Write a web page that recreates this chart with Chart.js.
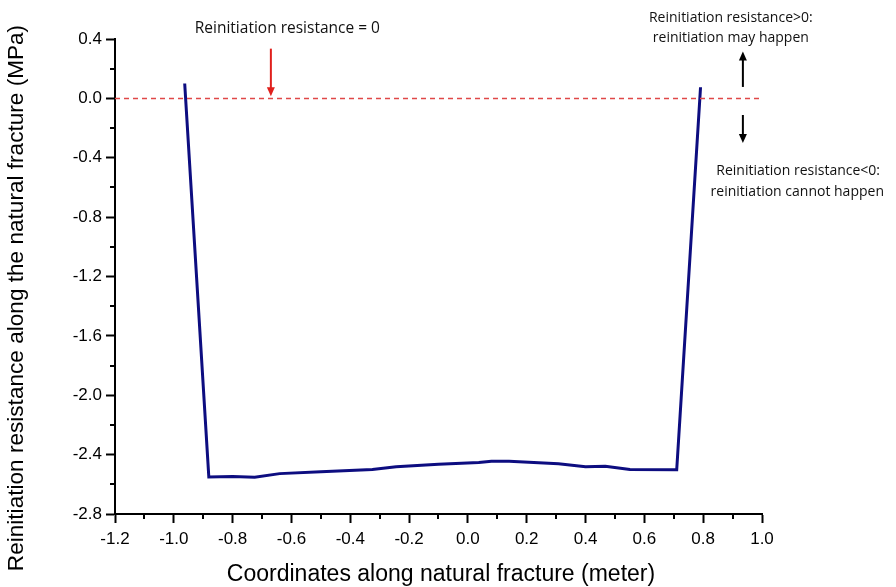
<!DOCTYPE html>
<html>
<head>
<meta charset="utf-8">
<script src="https://cdn.jsdelivr.net/npm/chart.js@4.4.1/dist/chart.umd.min.js"></script>
<style>
  html, body { margin: 0; padding: 0; background: #fff; }
  #wrap { width: 896px; height: 587px; }
</style>
</head>
<body>
<div id="wrap"><canvas id="chart" width="896" height="587"></canvas></div>
<script>
// values
const coordX = [-0.963, -0.881, -0.80, -0.725, -0.64, -0.50, -0.325, -0.244, -0.10, 0.037, 0.08, 0.14, 0.308, 0.40, 0.467, 0.551, 0.71, 0.791];
const resistance = [0.10, -2.55, -2.547, -2.552, -2.528, -2.515, -2.50, -2.482, -2.465, -2.453, -2.445, -2.445, -2.462, -2.482, -2.478, -2.50, -2.502, 0.075];
const zeroX = [-1.2, 0.99];
const zeroY = [0, 0];

const xTitle = "Coordinates along natural fracture (meter)";
const yTitle = "Reinitiation resistance along the natural fracture (MPa)";

const AXIS_FONT = "Liberation Sans, Arial, sans-serif";
const NOTE_FONT = "'Open Sans', 'Noto Sans', sans-serif";

function toPoints(xs, ys) {
    return xs.map((x, i) => ({ x, y: ys[i] }));
}

function arrow(ctx, x, y1, y2, color) {
    // shaft from y1 to y2, head at y2
    const dir = y2 > y1 ? 1 : -1;
    ctx.save();
    ctx.strokeStyle = color;
    ctx.fillStyle = color;
    ctx.lineWidth = 2;
    ctx.beginPath();
    ctx.moveTo(x, y1);
    ctx.lineTo(x, y2 - dir * 6);
    ctx.stroke();
    ctx.beginPath();
    ctx.moveTo(x, y2);
    ctx.lineTo(x - 4, y2 - dir * 9);
    ctx.lineTo(x + 4, y2 - dir * 9);
    ctx.closePath();
    ctx.fill();
    ctx.restore();
}

const decor = {
    id: "decor",
    afterDraw(chart) {
        const ctx = chart.ctx;
        const xs = chart.scales.x;
        const ys = chart.scales.y;
        const area = chart.chartArea;

        // minor ticks
        ctx.save();
        ctx.strokeStyle = "#000";
        ctx.lineWidth = 2;
        for (let v = -1.1; v < 1.0; v += 0.2) {
            const px = Math.round(xs.getPixelForValue(v));
            ctx.beginPath();
            ctx.moveTo(px, area.bottom);
            ctx.lineTo(px, area.bottom + 5);
            ctx.stroke();
        }
        for (let v = 0.2; v > -2.8; v -= 0.4) {
            const py = Math.round(ys.getPixelForValue(v));
            ctx.beginPath();
            ctx.moveTo(area.left, py);
            ctx.lineTo(area.left - 5, py);
            ctx.stroke();
        }
        ctx.restore();

        // axis titles
        ctx.save();
        ctx.fillStyle = "#000";
        ctx.textAlign = "center";
        ctx.textBaseline = "middle";
        ctx.font = "23px " + AXIS_FONT;
        ctx.fillText(xTitle, 441, 575);
        ctx.font = "22.6px " + AXIS_FONT;
        ctx.translate(17, 298);
        ctx.rotate(-Math.PI / 2);
        ctx.fillText(yTitle, 0, 0);
        ctx.restore();

        // annotations
        ctx.save();
        ctx.fillStyle = "#111";
        ctx.textAlign = "center";
        ctx.textBaseline = "middle";
        ctx.font = "15.5px " + NOTE_FONT;
        ctx.fillText("Reinitiation resistance = 0", xs.getPixelForValue(-0.614), ys.getPixelForValue(0.467));
        ctx.font = "14px " + NOTE_FONT;
        ctx.fillText("Reinitiation resistance>0:", xs.getPixelForValue(0.894), ys.getPixelForValue(0.54));
        ctx.fillText("reinitiation may happen", xs.getPixelForValue(0.894), ys.getPixelForValue(0.405));
        ctx.fillText("Reinitiation resistance<0:", xs.getPixelForValue(1.123), ys.getPixelForValue(-0.49));
        ctx.fillText("reinitiation cannot happen", xs.getPixelForValue(1.12), ys.getPixelForValue(-0.632));
        ctx.restore();

        arrow(ctx, xs.getPixelForValue(-0.67), ys.getPixelForValue(0.335), ys.getPixelForValue(0.015), "#e0201c");
        arrow(ctx, xs.getPixelForValue(0.935), ys.getPixelForValue(0.077), ys.getPixelForValue(0.315), "#000");
        arrow(ctx, xs.getPixelForValue(0.935), ys.getPixelForValue(-0.112), ys.getPixelForValue(-0.30), "#000");
    }
};

new Chart(document.getElementById("chart"), {
    type: "line",
    data: {
        datasets: [
            {
                data: toPoints(zeroX, zeroY),
                borderColor: "#e04848",
                borderWidth: 1.5,
                borderDash: [5, 4],
                pointRadius: 0,
                fill: false
            },
            {
                data: toPoints(coordX, resistance),
                borderColor: "#0d0d80",
                borderWidth: 3,
                pointRadius: 0,
                tension: 0,
                fill: false
            }
        ]
    },
    options: {
        responsive: false,
        animation: false,
        layout: { padding: { top: 39, right: 134, left: 0, bottom: 0 } },
        plugins: { legend: { display: false }, tooltip: { enabled: false } },
        scales: {
            x: {
                type: "linear",
                min: -1.2,
                max: 1.0,
                afterFit: (s) => { s.height = 73; },
                ticks: {
                    stepSize: 0.2,
                    padding: 6,
                    color: "#000",
                    font: { family: AXIS_FONT, size: 17 },
                    maxRotation: 0,
                    callback: (v) => v.toFixed(1)
                },
                grid: { drawOnChartArea: false, drawTicks: true, tickLength: 9, tickWidth: 2, tickColor: "#000" },
                border: { display: true, color: "#000", width: 2 }
            },
            y: {
                type: "linear",
                min: -2.8,
                max: 0.4,
                afterFit: (s) => { s.width = 115; },
                ticks: {
                    stepSize: 0.4,
                    padding: 4,
                    color: "#000",
                    font: { family: AXIS_FONT, size: 17 },
                    callback: (v) => v.toFixed(1)
                },
                grid: { drawOnChartArea: false, drawTicks: true, tickLength: 9, tickWidth: 2, tickColor: "#000" },
                border: { display: true, color: "#000", width: 2 }
            }
        }
    },
    plugins: [decor]
});
</script>
</body>
</html>
